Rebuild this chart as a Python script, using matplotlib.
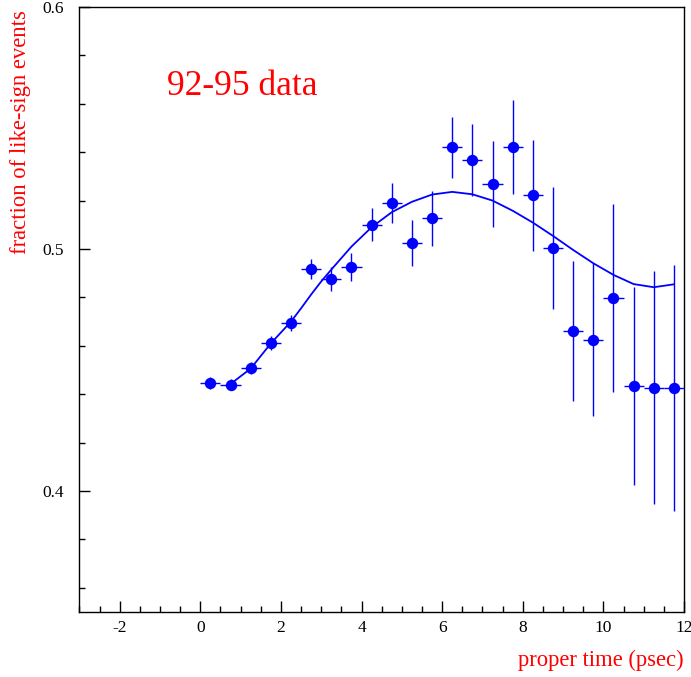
import numpy as np
import matplotlib
matplotlib.use("Agg")
import matplotlib.pyplot as plt
from matplotlib.ticker import MultipleLocator

plt.rcParams['font.family'] = ['Liberation Serif', 'DejaVu Serif']
plt.rcParams['axes.unicode_minus'] = False

# measured fraction of like-sign events per 0.5 ps bin
t_bin = [0.25, 0.75, 1.25, 1.75, 2.25, 2.75, 3.25, 3.75, 4.25, 4.75, 5.25, 5.75,
         6.25, 6.75, 7.25, 7.75, 8.25, 8.75, 9.25, 9.75, 10.25, 10.75, 11.25, 11.75]
frac = [0.4446, 0.4440, 0.4508, 0.4612, 0.4694, 0.4917, 0.4876, 0.4925,
        0.5101, 0.5190, 0.5025, 0.5126, 0.5420, 0.5366, 0.5268, 0.5421,
        0.5222, 0.5005, 0.4661, 0.4626, 0.4797, 0.4435, 0.4426, 0.4426]
frac_err = [0.0026, 0.0022, 0.0025, 0.0029, 0.0033, 0.0041, 0.0050, 0.0058,
            0.0070, 0.0083, 0.0095, 0.0112, 0.0126, 0.0149, 0.0178, 0.0194,
            0.0230, 0.0252, 0.0289, 0.0318, 0.0387, 0.0409, 0.0481, 0.0507]
t_halfwidth = 0.25

# fitted curve
t_fit = [0.78, 1.25, 1.75, 2.25, 2.5, 2.75, 3.0, 3.25, 3.75, 4.25, 4.75, 5.25, 5.75, 6.25,
         6.75, 7.25, 7.75, 8.25, 8.75, 9.25, 9.75, 10.25, 10.75, 11.25, 11.75]
f_fit = [0.4446, 0.4506, 0.4610, 0.4700, 0.4755, 0.4812, 0.4866, 0.4915, 0.5010, 0.5090,
         0.5152, 0.5195, 0.5225, 0.5236, 0.5226, 0.5200, 0.5158, 0.5109,
         0.5054, 0.4996, 0.4941, 0.4893, 0.4855, 0.4842, 0.4854]

fig = plt.figure(figsize=(6.91, 6.77), dpi=100)
ax = fig.add_axes([0.1149, 0.096, 0.8750, 0.8937])

ax.errorbar(t_bin, frac, xerr=t_halfwidth, yerr=frac_err, fmt='o', color='#0000ff',
            ms=7.2, elinewidth=1.0, capsize=0, zorder=3)
ax.plot(t_fit, f_fit, '-', color='#0000ff', lw=1.3, zorder=2)

ax.set_xlim(-3, 12)
ax.set_ylim(0.35, 0.6)
ax.xaxis.set_major_locator(MultipleLocator(2))
ax.xaxis.set_minor_locator(MultipleLocator(0.5))
ax.yaxis.set_major_locator(MultipleLocator(0.1))
ax.yaxis.set_minor_locator(MultipleLocator(0.02))
ax.yaxis.set_major_formatter(plt.FuncFormatter(lambda v, p: '{:g}'.format(round(v, 3))))
ax.tick_params(which='both', direction='in', top=False, right=False, labelsize=12.5, width=1.0)
ax.tick_params(which='major', length=8)
ax.tick_params(which='minor', length=4.3)
ax.tick_params(axis='y', pad=11)
ax.tick_params(axis='x', pad=6)
for s in ax.spines.values():
    s.set_linewidth(1.0)

fig.text(0.029, 0.985, 'fraction of like-sign events', color='red', fontsize=16.3,
         rotation=90, ha='center', va='top')
fig.text(0.99, 0.025, 'proper time (psec)', color='red', fontsize=16.3,
         ha='right', va='center')
ax.text(0.145, 0.868, '92-95 data', color='red', fontsize=25.5, transform=ax.transAxes,
        ha='left', va='center')

fig.savefig('out.png', dpi=100)
